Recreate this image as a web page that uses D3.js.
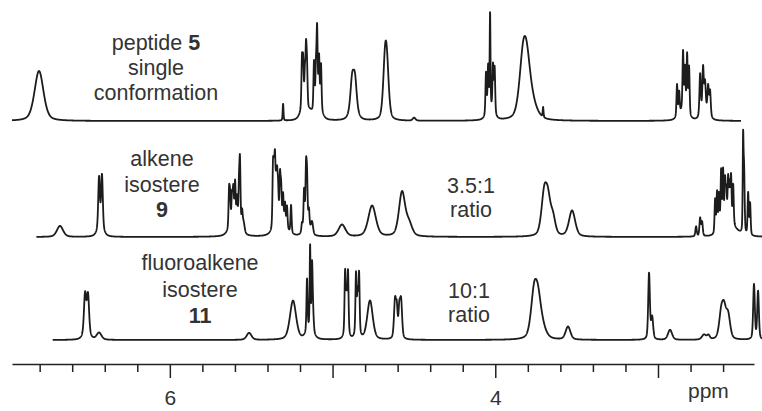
<!DOCTYPE html>
<html>
<head>
<meta charset="utf-8">
<script src="https://cdn.jsdelivr.net/npm/d3@7"></script>
<style>
  body { margin: 0; background: #fff; }
  svg { display: block; }
  text { font-family: "Liberation Sans", Arial, sans-serif; fill: #333; }
</style>
</head>
<body>
<div id="viz"></div>
<script>
// peaks: [ppm, intensity, line width (ppm)]
const peptidePeaks = [
  [6.804, 50, 0.065],
  [5.304, 17, 0.006],
  [5.175, 12, 0.05], [5.09, 14, 0.05], [5.138, 5, 0.03],
  [5.188, 48, 0.008], [5.181, 44, 0.008], [5.170, 30, 0.008], [5.163, 54, 0.008], [5.157, 38, 0.008],
  [5.114, 48, 0.008], [5.102, 36, 0.008], [5.095, 74, 0.008], [5.083, 48, 0.008], [5.071, 45, 0.008],
  [4.880, 28, 0.024], [4.862, 28, 0.024], [4.871, 14, 0.05],
  [4.677, 54, 0.028], [4.665, 38, 0.028],
  [4.499, 3, 0.02],
  [4.03, 10, 0.05],
  [4.057, 42, 0.008], [4.044, 45, 0.008], [4.032, 96, 0.006], [4.014, 46, 0.008], [4.004, 46, 0.008],
  [3.829, 54, 0.055], [3.805, 40, 0.055], [3.77, 12, 0.07],
  [3.706, 10, 0.006],
  [2.845, 10, 0.06],
  [2.883, 32, 0.008], [2.870, 22, 0.008], [2.846, 58, 0.008], [2.834, 42, 0.008], [2.821, 58, 0.008], [2.809, 48, 0.008],
  [2.71, 10, 0.05],
  [2.741, 42, 0.01], [2.723, 44, 0.01], [2.711, 27, 0.01], [2.692, 27, 0.01], [2.680, 25, 0.01]
];

const alkenePeaks = [
  [6.675, 11, 0.045],
  [6.426, 8, 0.045], [6.435, 52, 0.012], [6.417, 54, 0.012],
  [5.60, 15, 0.07],
  [5.636, 36, 0.008], [5.630, 28, 0.008], [5.618, 28, 0.008], [5.610, 32, 0.008], [5.599, 38, 0.008],
  [5.587, 24, 0.008], [5.575, 36, 0.008], [5.569, 62, 0.008], [5.556, 16, 0.008], [5.547, 10, 0.015],
  [5.32, 14, 0.08],
  [5.366, 58, 0.008], [5.360, 42, 0.008], [5.354, 58, 0.008], [5.347, 32, 0.008], [5.341, 40, 0.008],
  [5.335, 30, 0.008], [5.323, 44, 0.008], [5.316, 32, 0.008], [5.304, 28, 0.008], [5.292, 22, 0.008],
  [5.280, 22, 0.008], [5.255, 28, 0.008],
  [5.16, 14, 0.04],
  [5.188, 8, 0.008], [5.175, 36, 0.008], [5.163, 52, 0.008], [5.157, 42, 0.008], [5.145, 16, 0.008], [5.126, 12, 0.015],
  [4.942, 12, 0.05],
  [4.757, 31, 0.055],
  [4.573, 44, 0.045], [4.530, 12, 0.045],
  [3.700, 38, 0.04], [3.676, 32, 0.04], [3.645, 16, 0.035],
  [3.528, 26, 0.045],
  [2.766, 10, 0.01], [2.741, 18, 0.01], [2.729, 14, 0.01],
  [2.56, 12, 0.1],
  [2.649, 34, 0.008], [2.637, 40, 0.008], [2.625, 36, 0.008], [2.612, 58, 0.008], [2.600, 56, 0.008],
  [2.588, 44, 0.008], [2.580, 32, 0.008], [2.569, 44, 0.008], [2.560, 36, 0.008], [2.551, 46, 0.008],
  [2.538, 40, 0.008], [2.477, 88, 0.006], [2.471, 62, 0.008], [2.446, 42, 0.008], [2.434, 32, 0.008]
];

const fluoroPeaks = [
  [6.512, 6, 0.045], [6.521, 40, 0.016], [6.503, 39, 0.016],
  [6.435, 7, 0.035],
  [5.513, 7, 0.035],
  [5.243, 39, 0.045],
  [5.14, 10, 0.05],
  [5.157, 52, 0.008], [5.138, 82, 0.006], [5.126, 62, 0.008], [5.120, 18, 0.01],
  [4.915, 8, 0.03], [4.923, 60, 0.008], [4.914, 36, 0.008], [4.905, 60, 0.008],
  [4.847, 8, 0.03], [4.856, 58, 0.008], [4.846, 36, 0.008], [4.837, 58, 0.008],
  [4.770, 39, 0.04],
  [4.616, 38, 0.015], [4.605, 26, 0.012], [4.590, 26, 0.012], [4.579, 38, 0.015],
  [3.762, 42, 0.045], [3.737, 32, 0.045], [3.71, 9, 0.055],
  [3.553, 13, 0.035],
  [3.055, 66, 0.012], [3.036, 22, 0.015],
  [2.926, 10, 0.03],
  [2.717, 5, 0.03], [2.69, 4, 0.02],
  [2.612, 23, 0.03], [2.594, 26, 0.03], [2.569, 23, 0.03],
  [2.410, 55, 0.012], [2.385, 48, 0.012]
];

// ppm extent of each trace
const peptideRange = [6.97, 2.49];
const alkeneRange = [6.82, 2.36];
const fluoroRange = [6.72, 2.36];

const minorTicks = [6.8, 6.6, 6.4, 6.2, 5.8, 5.6, 5.4, 5.2, 4.8, 4.6, 4.4, 4.2, 3.8, 3.6, 3.4, 3.2, 2.8, 2.6];
const majorTicks = [6, 5, 4, 3];
const tickLabels = { 6: "6", 4: "4" };

const width = 762, height = 411;

const svg = d3.select("#viz").append("svg")
  .attr("width", width)
  .attr("height", height);

const x = d3.scaleLinear().domain([6.97, 2.41]).range([12, 754]);

// pseudo-voigt line shape
const shape = (d, hw) => {
  const r = (d / hw) * (d / hw);
  return 0.4 / (1 + r) + 0.6 * Math.exp(-Math.LN2 * r);
};

const spectrum = (peaks, range) => {
  const pts = [];
  for (let p = range[0]; p >= range[1]; p -= 0.0008) {
    let v = 0;
    peaks.forEach(k => { v += k[1] * shape(p - k[0], k[2] / 2); });
    pts.push([p, v]);
  }
  return pts;
};

const traces = [
  { peaks: peptidePeaks, range: peptideRange, base: 121 },
  { peaks: alkenePeaks, range: alkeneRange, base: 237 },
  { peaks: fluoroPeaks, range: fluoroRange, base: 340 }
];

traces.forEach(t => {
  const y = d3.scaleLinear().domain([0, 100]).range([t.base, t.base - 100]);
  const line = d3.line().x(d => x(d[0])).y(d => y(d[1]));
  svg.append("path")
    .datum(spectrum(t.peaks, t.range))
    .attr("d", line)
    .attr("fill", "none")
    .attr("stroke", "#1c1c1c")
    .attr("stroke-width", 1.8)
    .attr("stroke-linejoin", "round");
});

// axis
const axisY = 364;
svg.append("g")
  .attr("transform", `translate(0,${axisY})`)
  .call(d3.axisBottom(x).tickValues(minorTicks).tickSize(8).tickFormat("").tickSizeOuter(0))
  .call(g => g.selectAll("path, line").attr("stroke", "#222").attr("stroke-width", 1.5));

const major = svg.append("g")
  .attr("transform", `translate(0,${axisY})`)
  .call(d3.axisBottom(x).tickValues(majorTicks).tickSize(14).tickSizeOuter(0)
    .tickFormat(d => tickLabels[d] || ""));
major.select(".domain").remove();
major.selectAll("line").attr("stroke", "#222").attr("stroke-width", 1.5);
major.selectAll("text")
  .attr("y", 41).attr("dy", 0)
  .style("font-size", "21px")
  .style("font-family", "'Liberation Sans', Arial, sans-serif")
  .attr("fill", "#333");

svg.append("text")
  .attr("x", x(2.69)).attr("y", 398)
  .attr("text-anchor", "middle")
  .style("font-size", "21px")
  .text("ppm");

// labels
const addLabel = (cx, lines) => {
  lines.forEach(l => {
    const t = svg.append("text")
      .attr("x", cx).attr("y", l.y)
      .attr("text-anchor", "middle")
      .style("font-size", "21.5px");
    t.append("tspan").text(l.text);
    if (l.bold) t.append("tspan").attr("font-weight", "bold").text(l.bold);
  });
};

addLabel(156, [
  { y: 50, text: "peptide ", bold: "5" },
  { y: 75, text: "single" },
  { y: 100, text: "conformation" }
]);
addLabel(162, [
  { y: 166, text: "alkene" },
  { y: 192, text: "isostere" },
  { y: 217, text: "", bold: "9" }
]);
addLabel(471, [
  { y: 193, text: "3.5:1" },
  { y: 217, text: "ratio" }
]);
addLabel(200, [
  { y: 270, text: "fluoroalkene" },
  { y: 297, text: "isostere" },
  { y: 323, text: "", bold: "11" }
]);
addLabel(469, [
  { y: 298, text: "10:1" },
  { y: 322, text: "ratio" }
]);
</script>
</body>
</html>
